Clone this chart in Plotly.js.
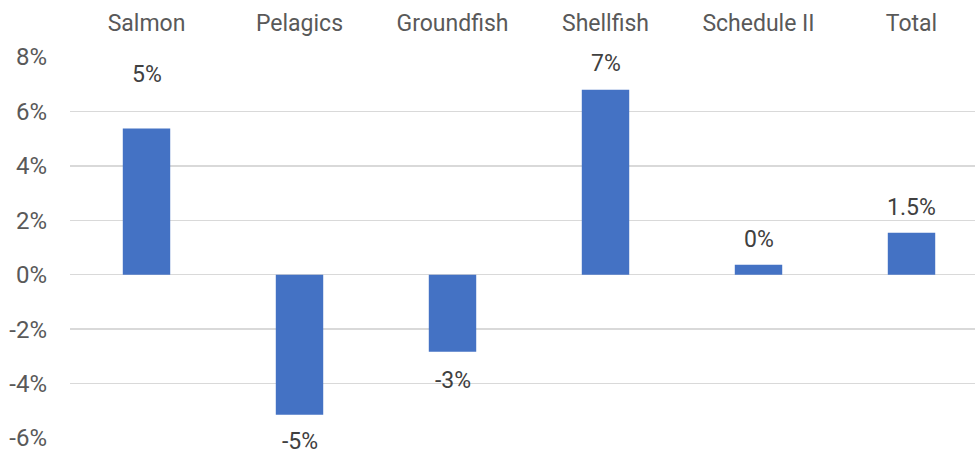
<!DOCTYPE html>
<html>
<head>
<meta charset="utf-8">
<script src="https://cdn.plot.ly/plotly-3.0.1.min.js"></script>
<style>
html,body{margin:0;padding:0;overflow:hidden;background:#fff;}
#chart{width:975px;height:455px;}
</style>
</head>
<body>
<div id="chart"></div>
<script>
const categories = ["Salmon", "Pelagics", "Groundfish", "Shellfish", "Schedule II", "Total"];
const changes = [5.37, -5.15, -2.83, 6.8, 0.37, 1.54];
const labels = ["5%", "-5%", "-3%", "7%", "0%", "1.5%"];
const yTickVals = [-6, -4, -2, 0, 2, 4, 6, 8];
const yTickText = ["-6%", "-4%", "-2%", "0%", "2%", "4%", "6%", "8%"];
const labelShift = [54, -27, -29, 26, 25, 25];

const font = "Roboto, 'Open Sans', sans-serif";
const fsize = 23;

const trace = {
  type: "bar",
  x: categories,
  y: changes,
  width: 0.31,
  marker: {color: "#4472C4"},
  hoverinfo: "x+y"
};

const annotations = categories.map((c, i) => ({
  x: c,
  y: changes[i],
  text: labels[i],
  showarrow: false,
  yshift: labelShift[i],
  font: {family: font, size: fsize, color: "#404040"},
  xanchor: "center",
  yanchor: "middle"
}));

const layout = {
  width: 975,
  height: 455,
  margin: {l: 70, r: 0, t: 57, b: 17},
  paper_bgcolor: "#fff",
  plot_bgcolor: "#fff",
  showlegend: false,
  font: {family: font, size: fsize, color: "#595959"},
  xaxis: {
    type: "category",
    side: "top",
    range: [-0.5, 5.415],
    showgrid: false,
    showline: false,
    ticks: "",
    ticklabelstandoff: 20,
    tickfont: {family: font, size: fsize, color: "#595959"}
  },
  yaxis: {
    range: [-6, 8],
    tickvals: yTickVals,
    ticktext: yTickText,
    showgrid: true,
    gridcolor: "#d9d9d9",
    gridwidth: 1.5,
    zeroline: true,
    zerolinecolor: "#d9d9d9",
    zerolinewidth: 1.5,
    showline: false,
    ticks: "",
    ticklabelstandoff: 22,
    tickfont: {family: font, size: 24, color: "#595959"}
  },
  annotations: annotations
};

Plotly.newPlot("chart", [trace], layout, {displayModeBar: false, staticPlot: true});
</script>
</body>
</html>
